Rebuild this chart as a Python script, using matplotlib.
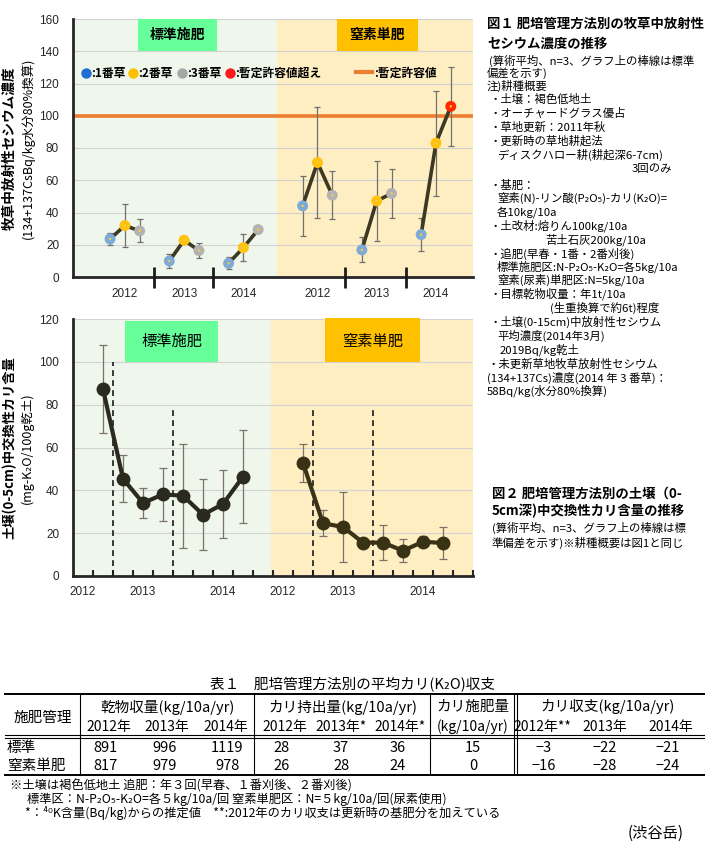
import matplotlib.pyplot as plt
from matplotlib.patches import Rectangle
import numpy as np

plt.rcParams['font.family'] = ['Noto Sans CJK JP', 'DejaVu Sans']

W, H = 705, 849

# 図1: 牧草中放射性セシウム濃度 (Bq/kg 水分80%換算), rows = 2012..2014, cols = 1..3番草
cs_years = ['2012', '2013', '2014']
cs_std_mean = [[23.6, 31.9, 28.6], [9.9, 22.8, 16.4], [8.5, 18.2, 29.4]]
cs_std_sd = [[3.9, 13.1, 7.2], [4.2, 2.0, 4.9], [3.8, 8.2, 0.0]]
cs_n_mean = [[44.1, 71.0, 50.7], [16.8, 47.2, 51.8], [26.3, 83.0, 105.8]]
cs_n_sd = [[18.5, 34.4, 14.8], [7.7, 24.8, 15.2], [10.2, 32.6, 24.6]]
cs_limit = 100

# 図2: 土壌(0-5cm)中交換性カリ含量 (mg-K2O/100g乾土)
k_years = ['2012', '2013', '2014']
k_std_mean = [87.3, 45.4, 34.1, 38.1, 37.5, 28.6, 33.6, 46.4]
k_std_sd = [20.5, 11.0, 7.2, 12.2, 24.3, 16.6, 16.0, 21.7]
k_n_mean = [52.8, 24.6, 22.9, 15.6, 15.6, 11.8, 16.0, 15.4]
k_n_sd = [8.9, 6.0, 16.2, 1.5, 8.1, 5.4, 2.6, 7.5]
k_cut_top = [100, 79, 78, 77.5]

# 表1
tbl_rows = ['標準', '窒素単肥']
dry_yield = [[891, 996, 1119], [817, 979, 978]]
k_export = [[28, 37, 36], [26, 28, 24]]
k_fert = [15, 0]
k_balance = [[-3, -22, -21], [-16, -28, -24]]

cut_colors = ['#7DAAD6', '#FFC20E', '#B2B2B2']
over_color = '#FF2A00'
green_bg, yellow_bg = '#EFF6EB', '#FFEEC2'
green_box, yellow_box = '#66FF99', '#FFC000'

fig = plt.figure(figsize=(W / 100, H / 100), dpi=100)


def px_axes(l, t, r, b):
    return fig.add_axes([l / W, 1 - b / H, (r - l) / W, (b - t) / H])


def style_axes(ax):
    for s in ['top', 'right']:
        ax.spines[s].set_visible(False)
    for s in ['left', 'bottom']:
        ax.spines[s].set_color('#262626')
        ax.spines[s].set_linewidth(2)
    ax.yaxis.grid(True, color='#D2D2D2', lw=0.8)
    ax.set_axisbelow(True)
    ax.tick_params(axis='y', length=0, pad=10, labelsize=8.5, labelcolor='#262626')
    for lab in ax.get_yticklabels():
        lab.set_family('Liberation Sans')


# ---------------- 図1 ----------------
ax1 = px_axes(73, 19, 473, 277)
grp = np.arange(3)
std_x = [4 * i + grp for i in range(3)]
n_x = [13 + 4 * i + grp for i in range(3)]
ax1.set_xlim(-2.5, 24.5)
ax1.set_ylim(0, 160)
ax1.set_yticks(range(0, 161, 20))
ax1.axvspan(-2.5, 11.3, color=green_bg, zorder=0, lw=0)
ax1.axvspan(11.3, 24.5, color=yellow_bg, zorder=0, lw=0)
ax1.axhline(cs_limit, color='#ED7D31', lw=2.6, zorder=2)

for xs_list, means, sds in [(std_x, cs_std_mean, cs_std_sd), (n_x, cs_n_mean, cs_n_sd)]:
    for xs, m, sd in zip(xs_list, means, sds):
        ax1.errorbar(xs, m, yerr=sd, fmt='none', ecolor='#707070', elinewidth=0.9,
                     capsize=2.5, capthick=0.9, zorder=2.5)
        ax1.plot(xs, m, color='#3D3822', lw=2.6, zorder=3)
        cols = [over_color if v > cs_limit else c for v, c in zip(m, cut_colors)]
        ax1.scatter(xs, m, s=62, c=cols, edgecolors='none', zorder=4)
        ax1.scatter(xs, m, s=3, c='#F6D040', edgecolors='none', zorder=4.5)

style_axes(ax1)
centers = [x[1] for x in std_x] + [x[1] for x in n_x]
ax1.set_xticks(centers, cs_years + cs_years)
ax1.tick_params(axis='x', length=0, pad=8, labelsize=8.5, labelcolor='#262626')
for lab in ax1.get_xticklabels():
    lab.set_family('Liberation Sans')
sep_x = [std_x[0][2] + 0.95, std_x[1][2] + 0.95, n_x[0][2] + 0.87, n_x[1][2] + 1.0]
ax1.vlines(sep_x, -7, 6, colors='#1A1A1A', lw=2, clip_on=False, zorder=5)

ax1.add_patch(Rectangle((0.1625, 0.876), 0.1975, 0.124, transform=ax1.transAxes,
                        fc=green_box, ec='none', zorder=3))
ax1.text(0.261, 0.938, '標準施肥', transform=ax1.transAxes, ha='center', va='center',
         fontsize=10, fontweight='bold', zorder=4)
ax1.add_patch(Rectangle((0.66, 0.876), 0.2025, 0.124, transform=ax1.transAxes,
                        fc=yellow_box, ec='none', zorder=3))
ax1.text(0.761, 0.938, '窒素単肥', transform=ax1.transAxes, ha='center', va='center',
         fontsize=10, fontweight='bold', zorder=4)

# legend
leg_y = 0.79
leg_items = [(0.0325, '#1F6FD0', ':1番草'), (0.15, '#FFC000', ':2番草'),
             (0.2725, '#A6A6A6', ':3番草'), (0.3925, '#FF1A1A', ':暫定許容値超え')]
for lx, c, t in leg_items:
    ax1.plot(lx, leg_y, 'o', ms=7.5, color=c, mec='none', transform=ax1.transAxes, zorder=5)
    ax1.text(lx + 0.013, leg_y, t, transform=ax1.transAxes, va='center', fontsize=8.5,
             fontweight='bold', zorder=5)
ax1.plot([0.7075, 0.7475], [leg_y + 0.005, leg_y + 0.005], color='#ED7D31', lw=3,
         transform=ax1.transAxes, zorder=5)
ax1.text(0.752, leg_y, ':暫定許容値', transform=ax1.transAxes, va='center', fontsize=8.5,
         fontweight='bold', zorder=5)

# ---------------- 図2 ----------------
ax2 = px_axes(73, 319, 473, 576)
ax2.set_xlim(0, 20)
ax2.set_ylim(0, 120)
ax2.set_yticks(range(0, 121, 20))
ax2.axvspan(0, 9.9, color=green_bg, zorder=0, lw=0)
ax2.axvspan(9.9, 20, color=yellow_bg, zorder=0, lw=0)
kx_std = 1.5 + np.arange(len(k_std_mean))
kx_n = 11.5 + np.arange(len(k_n_mean))
cut_x = [kx_std[0] + 0.5, kx_std[3] + 0.5, kx_n[0] + 0.5, kx_n[3] + 0.5]
for cx, top in zip(cut_x, k_cut_top):
    ax2.plot([cx, cx], [0, top], color='#1A1A1A', lw=1.2, ls=(0, (3.5, 2.5)), zorder=2)
for xs, m, sd, c in [(kx_std, k_std_mean, k_std_sd, '#2B2A1E'),
                     (kx_n, k_n_mean, k_n_sd, '#3A3214')]:
    ax2.errorbar(xs, m, yerr=sd, fmt='none', ecolor='#7A7366', elinewidth=0.9,
                 capsize=3, capthick=0.9, zorder=2.5)
    ax2.plot(xs, m, color=c, lw=3, marker='o', ms=9, zorder=3)

style_axes(ax2)
ax2.set_xticks([0.5, 3.5, 7.5, 10.5, 13.5, 17.5], k_years + k_years)
ax2.set_xticks(range(1, 21), minor=True)
ax2.tick_params(axis='x', which='major', length=0, pad=7, labelsize=8.5, labelcolor='#262626')
ax2.tick_params(axis='x', which='minor', direction='in', length=4, width=1.5, color='#262626')
for lab in ax2.get_xticklabels():
    lab.set_family('Liberation Sans')

ax2.add_patch(Rectangle((0.13, 0.833), 0.2325, 0.159, transform=ax2.transAxes,
                        fc=green_box, ec='none', zorder=3, clip_on=False))
ax2.text(0.2463, 0.912, '標準施肥', transform=ax2.transAxes, ha='center', va='center',
         fontsize=11, zorder=4)
ax2.add_patch(Rectangle((0.63, 0.833), 0.2375, 0.171, transform=ax2.transAxes,
                        fc=yellow_box, ec='none', zorder=3, clip_on=False))
ax2.text(0.7487, 0.912, '窒素単肥', transform=ax2.transAxes, ha='center', va='center',
         fontsize=11, zorder=4)

# ---------------- texts & table (pixel overlay) ----------------
ov = fig.add_axes([0, 0, 1, 1], zorder=10)
ov.set_xlim(0, W)
ov.set_ylim(H, 0)
ov.set_axis_off()
ov.patch.set_visible(False)

ov.text(10, 148, '牧草中放射性セシウム濃度', rotation=90, ha='center', va='center',
        fontsize=9.8, fontweight='bold')
ov.text(28, 148, '(134+137CsBq/kg水分80%換算)', rotation=90, ha='center', va='center',
        fontsize=9)
ov.text(9, 448, '土壌(0-5cm)中交換性カリ含量', rotation=90, ha='center', va='center',
        fontsize=9.5, fontweight='bold')
ov.text(27, 448, '(mg-K₂O/100g乾土)', rotation=90, ha='center', va='center', fontsize=9)

fig1_notes = [
    (487, 24, '図１ 肥培管理方法別の牧草中放射性', True),
    (487, 44, 'セシウム濃度の推移', True),
    (489, 61, '(算術平均、n=3、グラフ上の棒線は標準', False),
    (487, 73, '偏差を示す)', False),
    (487, 86, '注)耕種概要', False),
    (489, 99, '・土壌：褐色低地土', False),
    (489, 113, '・オーチャードグラス優占', False),
    (489, 127, '・草地更新：2011年秋', False),
    (489, 141, '・更新時の草地耕起法', False),
    (497, 155, 'ディスクハロー耕(耕起深6-7cm)', False),
    (632, 169, '3回のみ', False),
    (489, 185, '・基肥：', False),
    (497, 198, '窒素(N)-リン酸(P₂O₅)-カリ(K₂O)=', False),
    (497, 212, '各10kg/10a', False),
    (489, 226, '・土改材:熔りん100kg/10a', False),
    (545, 240, '苦土石灰200kg/10a', False),
    (489, 254, '・追肥(早春・1番・2番刈後)', False),
    (497, 267, '標準施肥区:N-P₂O₅-K₂O=各5kg/10a', False),
    (497, 280, '窒素(尿素)単肥区:N=5kg/10a', False),
    (489, 294, '・目標乾物収量：年1t/10a', False),
    (550, 308, '(生重換算で約6t)程度', False),
    (489, 322, '・土壌(0-15cm)中放射性セシウム', False),
    (497, 336, '平均濃度(2014年3月)', False),
    (500, 350, '2019Bq/kg乾土', False),
    (487, 364, '・未更新草地牧草放射性セシウム', False),
    (487, 378, '(134+137Cs)濃度(2014 年 3 番草)：', False),
    (487, 391, '58Bq/kg(水分80%換算)', False),
    (492, 494, '図２ 肥培管理方法別の土壌（0-', True),
    (492, 511, '5cm深)中交換性カリ含量の推移', True),
    (492, 528, '(算術平均、n=3、グラフ上の棒線は標', False),
    (492, 543, '準偏差を示す)※耕種概要は図1と同じ', False),
]
for x, y, t, b in fig1_notes:
    ov.text(x, y, t, va='center', ha='left', fontsize=9.6 if b else 8.2,
            fontweight='bold' if b else 'normal')

# table
ov.text(353, 685, '表１　肥培管理方法別の平均カリ(K₂O)収支', ha='center', va='center', fontsize=10.5)
ov.plot([5, 705], [694, 694], color='k', lw=1.4)
ov.plot([5, 705], [735, 735], color='k', lw=0.8)
ov.plot([5, 705], [737.5, 737.5], color='k', lw=0.8)
ov.plot([5, 705], [775, 775], color='k', lw=1.4)
for vx in [80, 254, 430, 514, 516.5]:
    ov.plot([vx, vx], [694, 775], color='k', lw=0.8)

hdr = dict(ha='center', va='center', fontsize=10.5)
sub = dict(ha='center', va='center', fontsize=10)
ov.text(43, 718, '施肥管理', **hdr)
ov.text(168, 707, '乾物収量(kg/10a/yr)', **hdr)
ov.text(343, 707, 'カリ持出量(kg/10a/yr)', **hdr)
ov.text(473, 707, 'カリ施肥量', **hdr)
ov.text(608, 707, 'カリ収支(kg/10a/yr)', **hdr)
yr_lbl = ['2012年', '2013年', '2014年']
for x, t in zip([109, 167, 226], yr_lbl):
    ov.text(x, 727, t, **sub)
for x, t in zip([285, 341, 400], ['2012年', '2013年*', '2014年*']):
    ov.text(x, 727, t, **sub)
ov.text(473, 727, '(kg/10a/yr)', **sub)
for x, t in zip([542, 605, 671], ['2012年**', '2013年', '2014年']):
    ov.text(x, 727, t, **sub)

for r, ry in enumerate([748, 766]):
    ov.text(7, ry, tbl_rows[r], ha='left', va='center', fontsize=10.5)
    for x, v in zip([105, 165, 227], dry_yield[r]):
        ov.text(x, ry, str(v), **hdr)
    for x, v in zip([282, 341, 398], k_export[r]):
        ov.text(x, ry, str(v), **hdr)
    ov.text(473, ry, str(k_fert[r]), **hdr)
    for x, v in zip([544, 605, 668], k_balance[r]):
        ov.text(x, ry, str(v).replace('-', '−'), **hdr)

note_kw = dict(va='center', fontsize=8.8)
ov.text(10, 786, '※土壌は褐色低地土 追肥：年３回(早春、１番刈後、２番刈後)', **note_kw)
ov.text(27, 799.5, '標準区：N-P₂O₅-K₂O=各５kg/10a/回 窒素単肥区：N=５kg/10a/回(尿素使用)', **note_kw)
ov.text(25, 813, '*：⁴⁰K含量(Bq/kg)からの推定値　**:2012年のカリ収支は更新時の基肥分を加えている',
        **note_kw)
ov.text(656, 833, '(渋谷岳)', ha='center', va='center', fontsize=11)

fig.savefig('out.png', dpi=100)
